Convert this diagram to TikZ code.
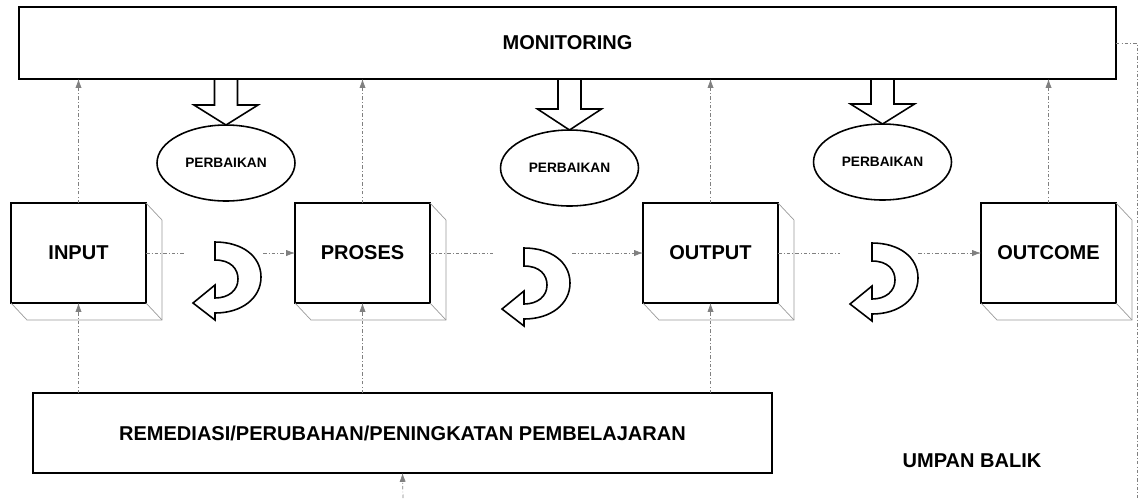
\documentclass[tikz,border=0pt]{standalone}
\usepackage{fontspec}
\setmainfont{Liberation Sans}
\usetikzlibrary{shapes.geometric,arrows.meta,calc}

\tikzset{
  box/.style={draw, line width=1.5pt, minimum width=2.7cm, minimum height=2cm, font=\fontsize{11.4}{14}\selectfont\bfseries},
  bar/.style={draw, line width=1.5pt, font=\fontsize{11.4}{14}\selectfont\bfseries},
  fix/.style={draw, ellipse, line width=0.9pt, minimum width=2.76cm, minimum height=1.52cm, font=\fontsize{7.8}{10}\selectfont\bfseries},
  link/.style={gray, line width=0.4pt, dash pattern=on 2pt off 1.2pt on 0.5pt off 1.2pt},
  depth/.style={gray!80, line width=0.4pt},
  hollow/.style={line width=0.9pt, fill=white},
  uturn/.pic={
    \draw[hollow] (0,0) -- (0,18) .. controls (16,18) and (23,27) .. (23,37)
      .. controls (23,48) and (14,56) .. (0,56) -- (0,43) -- (-22,61) -- (0,78) -- (0,71)
      .. controls (27,71) and (46,56) .. (46,35) .. controls (46,14) and (27,0) .. (0,0) -- cycle;
  }
}

\begin{document}
\begin{tikzpicture}[x=0.02cm, y=-0.02cm, >={Latex[length=5pt,width=3.5pt]}, inner sep=0pt, outer sep=0pt]
\useasboundingbox (0,0) rectangle (1141,498);
%\draw [lightgray, dashed](0,0) grid[step=50] (1141,498);

\node [bar, minimum width=21.94cm, minimum height=1.44cm] (MON) at (567.5,43) {MONITORING};

\node [box] (IN) at (78.5,253)  {INPUT};
\node [box] (PR) at (362.5,253) {PROSES};
\node [box] (OU) at (710.5,253) {OUTPUT};
\node [box] (OC) at (1048.5,253) {OUTCOME};

\node [bar, line width=1.1pt, minimum width=14.78cm, minimum height=1.6cm] (REM) at (402.5,433) {REMEDIASI/PERUBAHAN/PENINGKATAN PEMBELAJARAN};
\node [font=\fontsize{11.4}{14}\selectfont\bfseries] (FB) at (972,461) {UMPAN BALIK};

\node [fix] (P1) at (226,163)   {PERBAIKAN};
\node [fix] (P2) at (569.5,168) {PERBAIKAN};
\node [fix] (P3) at (882.5,162) {PERBAIKAN};

% depth of the boxes
\draw [depth] (IN.north east) -- ++(16,17) -- ++(0,100) -- ++(-135,0) -- (IN.south west);
\draw [depth] (IN.south east) -- ++(16,17);
\draw [depth] (PR.north east) -- ++(16,17) -- ++(0,100) -- ++(-135,0) -- (PR.south west);
\draw [depth] (PR.south east) -- ++(16,17);
\draw [depth] (OU.north east) -- ++(16,17) -- ++(0,100) -- ++(-135,0) -- (OU.south west);
\draw [depth] (OU.south east) -- ++(16,17);
\draw [depth] (OC.north east) -- ++(16,17) -- ++(0,100) -- ++(-135,0) -- (OC.south west);
\draw [depth] (OC.south east) -- ++(16,17);

% to monitoring
\draw [link,->] (IN.north) -- (IN.north |- MON.south);
\draw [link,->] (PR.north) -- (PR.north |- MON.south);
\draw [link,->] (OU.north) -- (OU.north |- MON.south);
\draw [link,->] (OC.north) -- (OC.north |- MON.south);

% from remediasi
\draw [link,->] (IN.south |- REM.north) -- (IN.south);
\draw [link,->] (PR.south |- REM.north) -- (PR.south);
\draw [link,->] (OU.south |- REM.north) -- (OU.south);

\coordinate (src) at (403,498);
\draw [link,->] (src) -- (REM.south);

\coordinate (fbend) at (1137,498);
\draw [link] (MON.east) -| (fbend);

% flow
\coordinate (g1a) at (185,253);
\coordinate (g1b) at (263,253);
\coordinate (g2a) at (493,253);
\coordinate (g2b) at (572,253);
\coordinate (g3a) at (840,253);
\coordinate (g3b) at (918,253);
\draw [link]    (IN.east) -- (g1a);
\draw [link,->] (g1b) -- (PR.west);
\draw [link]    (PR.east) -- (g2a);
\draw [link,->] (g2b) -- (OU.west);
\draw [link]    (OU.east) -- (g3a);
\draw [link,->] (g3b) -- (OC.west);

\pic at (215,242) {uturn};
\pic at (524,248) {uturn};
\pic at (872,243) {uturn};

% perbaikan arrows
\draw [hollow] (P1.north) -- ++(-32,-20) -- ++(20.5,0) |- (P1.north |- MON.south) -- ++(11.5,0) |- ($(P1.north)+(32,-20)$) -- cycle;
\draw [hollow] (P2.north) -- ++(-32,-21) -- ++(20.5,0) |- (P2.north |- MON.south) -- ++(11.5,0) |- ($(P2.north)+(32,-21)$) -- cycle;
\draw [hollow] (P3.north) -- ++(-32,-20) -- ++(20.5,0) |- (P3.north |- MON.south) -- ++(11.5,0) |- ($(P3.north)+(32,-20)$) -- cycle;

\end{tikzpicture}
\end{document}
